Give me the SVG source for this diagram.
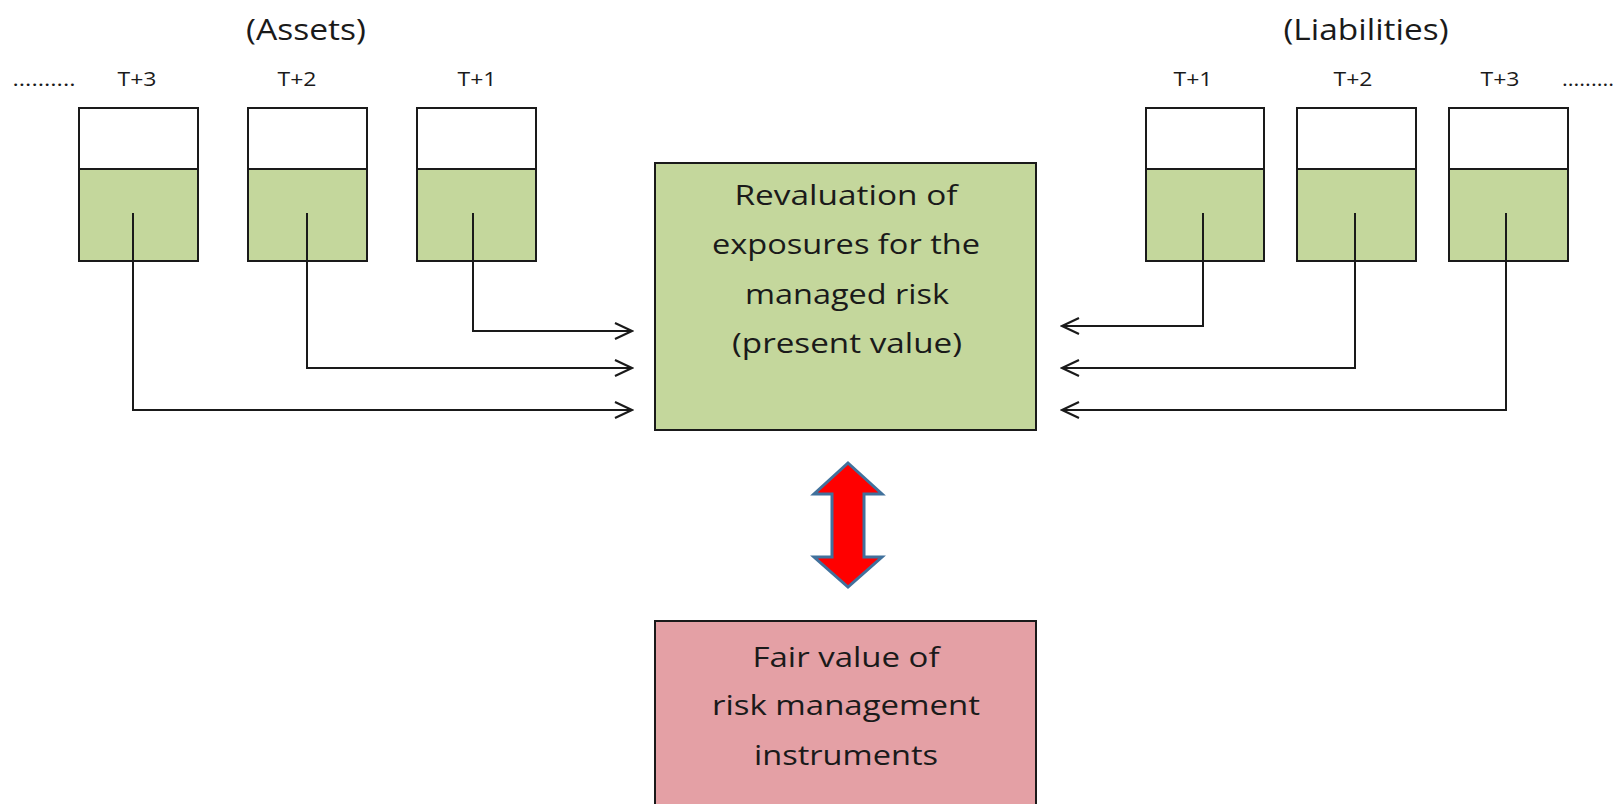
<svg xmlns="http://www.w3.org/2000/svg" width="1623" height="804" viewBox="0 0 1623 804">
<style>
  .t { font-family: "Open Sans", "Liberation Sans", sans-serif; fill: #1a1a1a; }
  .big { font-size: 29px; text-anchor: middle; }
  .lbl { font-size: 20px; text-anchor: middle; }
  .box { font-size: 28px; text-anchor: middle; }
  .top { fill: #ffffff; stroke: #1a1a1a; stroke-width: 2; }
  .bot { fill: #c4d79c; stroke: #1a1a1a; stroke-width: 2; }
  .conn { fill: none; stroke: #1a1a1a; stroke-width: 2; }
</style>
<defs>
  <marker id="arr" viewBox="0 0 20 20" refX="18" refY="10" markerWidth="20" markerHeight="20" markerUnits="userSpaceOnUse" orient="auto">
    <path d="M1,2 L18,10 L1,18" fill="none" stroke="#1a1a1a" stroke-width="2.2"/>
  </marker>
</defs>
<rect width="1623" height="804" fill="#ffffff"/>

<text class="t big" x="306" y="40" textLength="120" lengthAdjust="spacingAndGlyphs">(Assets)</text>
<text class="t big" x="1366" y="40" textLength="165" lengthAdjust="spacingAndGlyphs">(Liabilities)</text>
<text class="t lbl" x="44" y="86" textLength="63" lengthAdjust="spacingAndGlyphs">..........</text>
<text class="t lbl" x="1588" y="86" textLength="52" lengthAdjust="spacingAndGlyphs">.........</text>

<g id="asset-t3">
  <text class="t lbl" x="137" y="86" textLength="39" lengthAdjust="spacingAndGlyphs">T+3</text>
  <rect class="top" x="79" y="108" width="119" height="61"/>
  <rect class="bot" x="79" y="169" width="119" height="92"/>
</g>
<g id="asset-t2">
  <text class="t lbl" x="297" y="86" textLength="39" lengthAdjust="spacingAndGlyphs">T+2</text>
  <rect class="top" x="248" y="108" width="119" height="61"/>
  <rect class="bot" x="248" y="169" width="119" height="92"/>
</g>
<g id="asset-t1">
  <text class="t lbl" x="477" y="86" textLength="39" lengthAdjust="spacingAndGlyphs">T+1</text>
  <rect class="top" x="417" y="108" width="119" height="61"/>
  <rect class="bot" x="417" y="169" width="119" height="92"/>
</g>
<g id="liab-t1">
  <text class="t lbl" x="1193" y="86" textLength="39" lengthAdjust="spacingAndGlyphs">T+1</text>
  <rect class="top" x="1146" y="108" width="118" height="61"/>
  <rect class="bot" x="1146" y="169" width="118" height="92"/>
</g>
<g id="liab-t2">
  <text class="t lbl" x="1353" y="86" textLength="39" lengthAdjust="spacingAndGlyphs">T+2</text>
  <rect class="top" x="1297" y="108" width="119" height="61"/>
  <rect class="bot" x="1297" y="169" width="119" height="92"/>
</g>
<g id="liab-t3">
  <text class="t lbl" x="1500" y="86" textLength="39" lengthAdjust="spacingAndGlyphs">T+3</text>
  <rect class="top" x="1449" y="108" width="119" height="61"/>
  <rect class="bot" x="1449" y="169" width="119" height="92"/>
</g>

<g id="revaluation">
  <rect x="655" y="163" width="381" height="267" fill="#c4d79c" stroke="#1a1a1a" stroke-width="2"/>
  <text class="t box" x="846" y="205" textLength="223" lengthAdjust="spacingAndGlyphs">Revaluation of</text>
  <text class="t box" x="846" y="254" textLength="268" lengthAdjust="spacingAndGlyphs">exposures for the</text>
  <text class="t box" x="847" y="304" textLength="204" lengthAdjust="spacingAndGlyphs">managed risk</text>
  <text class="t box" x="847" y="353" textLength="230" lengthAdjust="spacingAndGlyphs">(present value)</text>
</g>

<g id="fair-value">
  <rect x="655" y="621" width="381" height="200" fill="#e4a0a5" stroke="#1a1a1a" stroke-width="2"/>
  <text class="t box" x="846" y="667" textLength="187" lengthAdjust="spacingAndGlyphs">Fair value of</text>
  <text class="t box" x="846" y="715" textLength="268" lengthAdjust="spacingAndGlyphs">risk management</text>
  <text class="t box" x="846" y="765" textLength="184" lengthAdjust="spacingAndGlyphs">instruments</text>
</g>

<g id="connectors">
  <path class="conn" d="M473,213 V331 H632" marker-end="url(#arr)"/>
  <path class="conn" d="M307,213 V368 H632" marker-end="url(#arr)"/>
  <path class="conn" d="M133,213 V410 H632" marker-end="url(#arr)"/>
  <path class="conn" d="M1203,213 V326 H1062" marker-end="url(#arr)"/>
  <path class="conn" d="M1355,213 V368 H1062" marker-end="url(#arr)"/>
  <path class="conn" d="M1506,213 V410 H1062" marker-end="url(#arr)"/>
  <path id="double-arrow" d="M848,463 L882,494 L864,494 L864,557 L882,557 L848,587 L814,557 L832,557 L832,494 L814,494 Z" fill="#ff0000" stroke="#41719c" stroke-width="3" stroke-linejoin="miter"/>
</g>
</svg>
